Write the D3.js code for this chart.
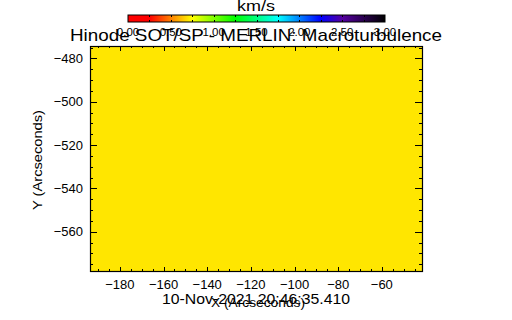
<!DOCTYPE html>
<html>
<head>
<meta charset="utf-8">
<script src="https://cdn.jsdelivr.net/npm/d3@7"></script>
<style>
  html, body { margin: 0; padding: 0; background: #fff; }
  svg { display: block; }
  text { font-family: "Liberation Sans", Arial, sans-serif; fill: #000; }
</style>
</head>
<body>
<div id="chart"></div>
<script>
// data
const xDomain = [-193.7, -41.6];
const yDomain = [-578.1, -474.3];
const xTicks = [-180, -160, -140, -120, -100, -80, -60];
const yTicks = [-480, -500, -520, -540, -560];
const cells = [{x0: -193.7, x1: -41.6, y0: -578.1, y1: -474.3, v: 0.70}];

const cbarTicks = [0, 0.5, 1, 1.5, 2, 2.5, 3];
const cbarStops = [0, 0.25, 0.5, 0.75, 1.0, 1.25, 1.5, 1.75, 2.0, 2.25, 2.5, 3.0];
const cbarColors = ["#ff0000", "#ff0000", "#ff8000", "#ffff00", "#80ff00", "#00ff00",
                    "#00ff80", "#00ffff", "#0080ff", "#0000ff", "#5500a0", "#000000"];

const title = "Hinode SOT/SP - MERLIN: Macroturbulence";
const dateLabel = "10-Nov-2021 20:46:35.410";

const width = 512, height = 320;
const plot = {left: 90, right: 422, top: 46, bottom: 271};
const cbar = {left: 128, right: 385, top: 15, bottom: 22};

const svg = d3.select("#chart").append("svg")
    .attr("width", width)
    .attr("height", height);

svg.append("rect").attr("width", width).attr("height", height).attr("fill", "#fff");

const x = d3.scaleLinear().domain(xDomain).range([plot.left, plot.right]);
const y = d3.scaleLinear().domain(yDomain).range([plot.bottom, plot.top]);
const color = d3.scaleLinear().domain(cbarStops).range(cbarColors).clamp(true);

// image cells
svg.append("g").selectAll("rect")
    .data(cells)
    .enter()
    .append("rect")
    .attr("x", d => x(d.x0))
    .attr("y", d => y(d.y1))
    .attr("width", d => x(d.x1) - x(d.x0))
    .attr("height", d => y(d.y0) - y(d.y1))
    .attr("fill", d => color(d.v));

// ticks on all four sides, pointing inward (IDL style)
const xMinor = d3.range(Math.ceil(xDomain[0] / 5) * 5, xDomain[1], 5);
const yMinor = d3.range(Math.ceil(yDomain[0] / 5) * 5, yDomain[1], 5);
const xLen = 0.02 * (plot.bottom - plot.top);
const yLen = 0.02 * (plot.right - plot.left);

const ticks = svg.append("g").attr("stroke", "#000").attr("stroke-width", 1).attr("shape-rendering", "crispEdges");
xMinor.forEach(v => {
    const len = xTicks.includes(v) ? xLen : xLen / 2;
    const px = Math.round(x(v)) + 0.5;
    ticks.append("line").attr("x1", px).attr("x2", px).attr("y1", plot.bottom).attr("y2", plot.bottom - len);
    ticks.append("line").attr("x1", px).attr("x2", px).attr("y1", plot.top).attr("y2", plot.top + len);
});
yMinor.forEach(v => {
    const len = yTicks.includes(v) ? yLen : yLen / 2;
    const py = Math.round(y(v)) + 0.5;
    ticks.append("line").attr("y1", py).attr("y2", py).attr("x1", plot.left).attr("x2", plot.left + len);
    ticks.append("line").attr("y1", py).attr("y2", py).attr("x1", plot.right).attr("x2", plot.right - len);
});

svg.append("rect")
    .attr("x", plot.left + 0.5).attr("y", plot.top + 0.5)
    .attr("width", plot.right - plot.left).attr("height", plot.bottom - plot.top)
    .attr("fill", "none").attr("stroke", "#000").attr("stroke-width", 1.2);

const fmt = d => d < 0 ? "\u2212" + Math.abs(d) : String(d);

svg.append("g").selectAll("text")
    .data(xTicks)
    .enter()
    .append("text")
    .attr("x", d => x(d))
    .attr("y", 289)
    .attr("text-anchor", "middle")
    .style("font-size", "13px")
    .text(fmt);

svg.append("g").selectAll("text")
    .data(yTicks)
    .enter()
    .append("text")
    .attr("x", 83)
    .attr("y", d => y(d) + 4.5)
    .attr("text-anchor", "end")
    .style("font-size", "13px")
    .text(fmt);

// axis titles
svg.append("text")
    .attr("transform", "translate(41.5,160) rotate(-90)")
    .attr("text-anchor", "middle")
    .attr("textLength", 100).attr("lengthAdjust", "spacingAndGlyphs")
    .style("font-size", "13px")
    .text("Y (Arcseconds)");

svg.append("text")
    .attr("x", 258).attr("y", 307)
    .attr("text-anchor", "middle")
    .attr("textLength", 94).attr("lengthAdjust", "spacingAndGlyphs")
    .style("font-size", "13px")
    .text("X (Arcseconds)");

svg.append("text")
    .attr("x", 256).attr("y", 304)
    .attr("text-anchor", "middle")
    .attr("textLength", 188).attr("lengthAdjust", "spacingAndGlyphs")
    .style("font-size", "14px")
    .text(dateLabel);

// colour bar
const grad = svg.append("defs").append("linearGradient")
    .attr("id", "cbar").attr("x1", "0%").attr("x2", "100%");
grad.selectAll("stop")
    .data(cbarStops)
    .enter()
    .append("stop")
    .attr("offset", d => (d / 3 * 100) + "%")
    .attr("stop-color", (d, i) => cbarColors[i]);

const c = d3.scaleLinear().domain([0, 3]).range([cbar.left, cbar.right]);

svg.append("rect")
    .attr("x", cbar.left).attr("y", cbar.top)
    .attr("width", cbar.right - cbar.left).attr("height", cbar.bottom - cbar.top)
    .attr("fill", "url(#cbar)")
    .attr("stroke", "#000").attr("stroke-width", 1);

const cTicks = svg.append("g").attr("stroke", "#000").attr("shape-rendering", "crispEdges");
d3.range(0.25, 3, 0.25).forEach(v => {
    const px = Math.round(c(v)) + 0.5;
    cTicks.append("line").attr("x1", px).attr("x2", px).attr("y1", cbar.top).attr("y2", cbar.top + 2);
    cTicks.append("line").attr("x1", px).attr("x2", px).attr("y1", cbar.bottom).attr("y2", cbar.bottom - 2);
});

svg.append("g").selectAll("text")
    .data(cbarTicks)
    .enter()
    .append("text")
    .attr("x", d => c(d))
    .attr("y", 36)
    .attr("text-anchor", "middle")
    .style("font-size", "11.5px")
    .text(d => d.toFixed(2));

svg.append("text")
    .attr("x", 256).attr("y", 11)
    .attr("text-anchor", "middle")
    .attr("textLength", 38).attr("lengthAdjust", "spacingAndGlyphs")
    .style("font-size", "14px")
    .text("km/s");

svg.append("text")
    .attr("x", 256).attr("y", 41)
    .attr("text-anchor", "middle")
    .attr("textLength", 372).attr("lengthAdjust", "spacingAndGlyphs")
    .style("font-size", "17px")
    .text(title);
</script>
</body>
</html>
